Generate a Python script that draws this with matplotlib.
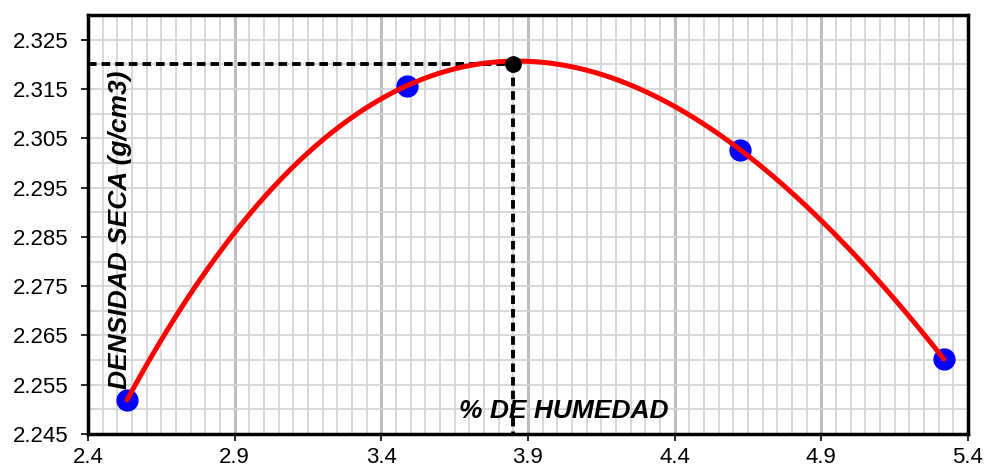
import numpy as np
import matplotlib.pyplot as plt
from matplotlib.ticker import MultipleLocator, FormatStrFormatter

# --- data ---
humedad = [2.533, 3.488, 4.623, 5.318]          # % de humedad
densidad = [2.2519, 2.3157, 2.3027, 2.2602]     # densidad seca (g/cm3)
hum_optima = 3.85
dens_maxima = 2.3201

x_ticks = [2.4, 2.9, 3.4, 3.9, 4.4, 4.9, 5.4]
y_ticks = [2.245, 2.255, 2.265, 2.275, 2.285, 2.295, 2.305, 2.315, 2.325]

plt.rcParams['font.family'] = ['Liberation Sans', 'DejaVu Sans']

fig = plt.figure(figsize=(9.85, 4.72), dpi=100)
ax = fig.add_axes([0.0893, 0.0805, 0.8934, 0.8875])

# polynomial trendline (as in the spreadsheet)
coef = np.polyfit(humedad, densidad, 3)
xs = np.linspace(min(humedad), max(humedad), 300)
ax.plot(xs, np.polyval(coef, xs), color='red', lw=3.6, zorder=4,
        solid_capstyle='round')

ax.plot(humedad, densidad, 'o', color='#0000ff', ms=15, zorder=3)

# optimum lines
ax.plot([2.4, hum_optima], [dens_maxima, dens_maxima], color='black', lw=2.8,
        ls=(0, (2.2, 1.3)), zorder=3)
ax.plot([hum_optima, hum_optima], [dens_maxima, 2.245], color='black', lw=2.8,
        ls=(0, (2.2, 1.3)), zorder=3)
ax.plot([hum_optima], [dens_maxima], 'o', color='black', ms=11, zorder=5)

ax.set_xlim(2.4, 5.4)
ax.set_ylim(2.245, 2.330)
ax.set_xticks(x_ticks)
ax.set_yticks(y_ticks)
ax.xaxis.set_major_formatter(FormatStrFormatter('%.1f'))
ax.yaxis.set_major_formatter(FormatStrFormatter('%.3f'))
ax.xaxis.set_minor_locator(MultipleLocator(0.05))
ax.yaxis.set_minor_locator(MultipleLocator(0.005))

ax.grid(which='minor', color='#d4d4d4', lw=1.3, zorder=0)
ax.grid(which='major', axis='x', color='#bdbdbd', lw=2.2, zorder=0)
ax.grid(which='major', axis='y', color='#d4d4d4', lw=1.3, zorder=0)
ax.set_axisbelow(True)

ax.tick_params(which='major', direction='out', length=5, width=1.2,
               labelsize=16, color='black')
ax.tick_params(axis='x', pad=4)
ax.tick_params(axis='y', pad=9)
ax.tick_params(which='minor', length=0)
for s in ax.spines.values():
    s.set_linewidth(2.5)
    s.set_color('black')

ax.text(0.036, 0.487, 'DENSIDAD SECA (g/cm3)', transform=ax.transAxes,
        rotation=90, ha='center', va='center', fontsize=19,
        fontweight='bold', fontstyle='italic', zorder=6)
ax.text(0.541, 0.055, '% DE HUMEDAD', transform=ax.transAxes,
        ha='center', va='center', fontsize=19,
        fontweight='bold', fontstyle='italic', zorder=6)

fig.savefig('out.png', dpi=100)
